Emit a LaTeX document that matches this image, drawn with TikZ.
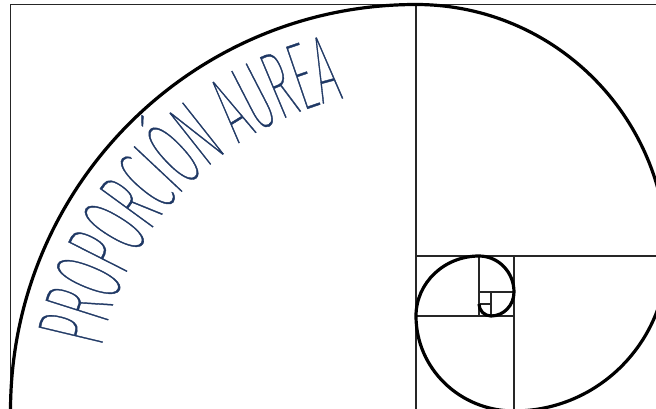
\documentclass[tikz,border=0pt]{standalone}
\usepackage{fontspec}
\usetikzlibrary{decorations.text}
\IfFontExistsTF{Fira Sans UltraLight}
  {\newfontfamily\aureafont{Fira Sans UltraLight}[FakeStretch=0.43]}
  {\newfontfamily\aureafont{Fira Sans Thin}[FakeStretch=0.43,FakeBold=0.4]}
\definecolor{aureaBlue}{HTML}{1F3864}
\tikzset{
  marco/.style={line width=1.3pt,black!85},
  espiral/.style={line width=2.4pt,black},
}

\begin{document}
\begin{tikzpicture}[x=0.75pt,y=0.75pt]
  \useasboundingbox (0,0) rectangle (656,408);
  \clip (0,0) rectangle (656,408);
  % rectangulo aureo y cuadrados
  \coordinate (sw) at (10.5,-3);
  \coordinate (ne) at (667,403.5);
  \draw[marco] (sw) rectangle (ne);
  \draw[marco] (416,-3) -- (416,403.5);
  \draw[marco] (416,152) -- (667,152);
  \draw[marco] (514,-3) -- (514,152);
  \draw[marco] (416,92) -- (514,92);
  \draw[marco] (479,92) -- (479,152);
  \draw[marco] (479,116) -- (514,116);
  \draw[marco] (491,92) -- (491,116);
  \draw[marco] (479,104) -- (491,104);
  % espiral
  \draw[espiral] (sw)
    arc[start angle=180,end angle=90,x radius=405.5,y radius=406.5]
    arc[start angle=90,end angle=0,x radius=251,y radius=251.5]
    arc[start angle=0,end angle=-90,x radius=153,y radius=155]
    arc[start angle=270,end angle=180,x radius=98,y radius=95]
    arc[start angle=180,end angle=90,x radius=63,y radius=60]
    arc[start angle=90,end angle=0,x radius=35,y radius=36]
    arc[start angle=0,end angle=-90,x radius=23,y radius=24]
    arc[start angle=270,end angle=180,x radius=12,y radius=12];
  % titulo
  \path[decorate,decoration={text along path,text align=fit to path,
      text color=aureaBlue,
      text={|\aureafont\fontsize{72}{72}\selectfont|PROPORCIÓN AUREA}}]
    (416,-3) ++(168.6:321) arc[start angle=168.6,end angle=104,radius=321];
\end{tikzpicture}
\end{document}
